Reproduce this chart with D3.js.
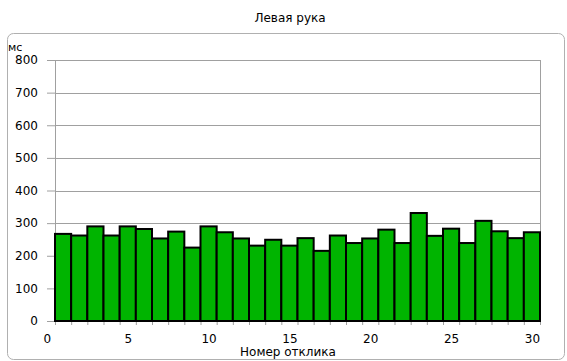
<!DOCTYPE html>
<html>
<head>
<meta charset="utf-8">
<script src="https://cdn.jsdelivr.net/npm/d3@7"></script>
<style>
  body { margin: 0; background: #fff; }
  svg { display: block; font-family: "DejaVu Sans", sans-serif; }
</style>
</head>
<body>
<svg id="chart" width="567" height="361"></svg>
<script>
        // номер отклика и время реакции, мс
        const responses = d3.range(1, 31);
        const times = [267, 262, 290, 262, 290, 282, 253, 274, 225, 290,
                       272, 253, 231, 249, 231, 254, 215, 262, 239, 253,
                       280, 239, 331, 261, 283, 239, 307, 275, 254, 272];
        const yTicks = [0, 100, 200, 300, 400, 500, 600, 700, 800];
        const xTicks = [0, 5, 10, 15, 20, 25, 30];

        const svg = d3.select('#chart');
        const width = 567, height = 361;
        const margin = { top: 60, bottom: 40, right: 27, left: 55 };
        const innerWidth = width - margin.left - margin.right;
        const innerHeight = height - margin.top - margin.bottom;

        // рамка
        svg.append('rect')
            .attr('x', 7.5).attr('y', 33.5)
            .attr('width', 557).attr('height', 326)
            .attr('rx', 6)
            .attr('fill', 'none')
            .attr('stroke', '#b0b0b0');

        svg.append('text')
            .attr('x', 290).attr('y', 22)
            .attr('text-anchor', 'middle')
            .attr('font-size', '12px')
            .text('Левая рука');

        svg.append('text')
            .attr('x', 8).attr('y', 51)
            .attr('font-size', '11px')
            .text('мс');

        const g = svg.append('g')
            .attr('transform', 'translate(' + margin.left + ', ' + margin.top + ')');

        const yScale = d3.scaleLinear()
            .domain([0, 800])
            .range([innerHeight, 0]);
        const xScale = d3.scaleLinear()
            .domain([0.5, 30.5])
            .range([0, innerWidth]);

        // сетка
        g.selectAll('.grid')
            .data(yTicks.slice(1))
            .enter()
            .append('line')
            .attr('x1', 0).attr('x2', innerWidth)
            .attr('y1', d => Math.round(yScale(d)) + 0.5)
            .attr('y2', d => Math.round(yScale(d)) + 0.5)
            .attr('stroke', '#a0a0a0');
        g.append('line')
            .attr('x1', innerWidth + 0.5).attr('x2', innerWidth + 0.5)
            .attr('y1', 0).attr('y2', innerHeight)
            .attr('stroke', '#a0a0a0');

        const yAxis = d3.axisLeft(yScale).tickValues(yTicks).tickSize(8).tickPadding(9);
        const yG = g.append('g').call(yAxis);
        yG.select('.domain').attr('stroke', '#a0a0a0');
        yG.selectAll('line').attr('stroke', '#a0a0a0');
        yG.selectAll('text').attr('font-size', '12px').attr('fill', '#000');
        yG.attr('font-family', null);

        const minor = d3.range(0.5, 31, 1);
        const minorAxis = d3.axisBottom(xScale).tickValues(minor).tickSize(4).tickFormat('');
        const mG = g.append('g').attr('transform', 'translate(0,' + innerHeight + ')').call(minorAxis);
        mG.select('.domain').remove();
        mG.selectAll('line').attr('stroke', '#a0a0a0');

        const xAxis = d3.axisBottom(xScale).tickValues(xTicks).tickSize(0).tickPadding(13);
        const xG = g.append('g').attr('transform', 'translate(0,' + innerHeight + ')').call(xAxis);
        xG.select('.domain').remove();
        xG.selectAll('text').attr('font-size', '12px').attr('fill', '#000');
        xG.attr('font-family', null);

        g.selectAll('.bar')
            .data(times)
            .enter()
            .append('rect')
            .attr('class', 'bar')
            .attr('x', (d, i) => xScale(responses[i] - 0.5))
            .attr('width', xScale(1.5) - xScale(0.5))
            .attr('y', d => yScale(d))
            .attr('height', d => innerHeight - yScale(d))
            .attr('fill', '#00b400')
            .attr('stroke', '#000')
            .attr('stroke-width', 2);

        svg.append('text')
            .attr('x', 288).attr('y', 356)
            .attr('text-anchor', 'middle')
            .attr('font-size', '12px')
            .text('Номер отклика');
</script>
</body>
</html>
